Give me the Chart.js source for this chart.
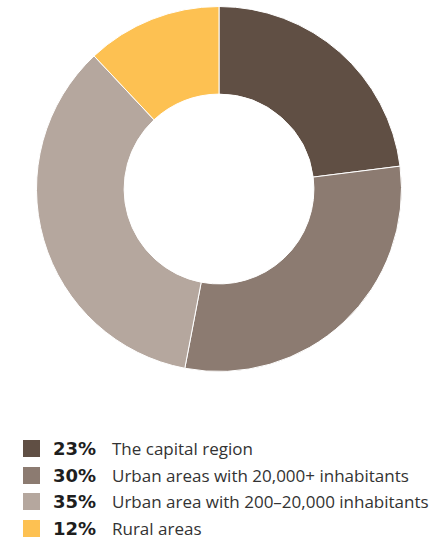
<!DOCTYPE html>
<html>
<head>
<meta charset="utf-8">
<script src="https://cdn.jsdelivr.net/npm/chart.js@4"></script>
<style>
  html, body { margin: 0; padding: 0; background: #fff; }
  body { width: 446px; height: 540px; position: relative; overflow: hidden; }
  #chartBox { position: absolute; left: 36px; top: 6px; width: 366px; height: 366px; }
  #legend { position: absolute; left: 23px; top: 435px; }
  .row { display: flex; align-items: center; height: 26.7px; white-space: nowrap; }
  .swatch { width: 17px; height: 17px; margin-right: 13px; }
  .pct { font-family: "DejaVu Sans", sans-serif; font-weight: bold; font-size: 18px; color: #1e1e1e; width: 59px; }
  .lbl { font-family: "Open Sans", sans-serif; font-size: 17px; color: #333; }
</style>
</head>
<body>
<div id="chartBox"><canvas id="donut"></canvas></div>
<div id="legend"></div>
<script>
// --- Data ---
const categories = ['The capital region', 'Urban areas with 20,000+ inhabitants', 'Urban area with 200\u201320,000 inhabitants', 'Rural areas'];
const shares = [23, 30, 35, 12];
const colors = ['#604f44', '#8c7b71', '#b5a79e', '#fdc152'];

// --- Chart ---
const ctx = document.getElementById('donut').getContext('2d');
new Chart(ctx, {
    type: 'doughnut',
    data: {
        labels: categories,
        datasets: [{
            data: shares,
            backgroundColor: colors,
            borderColor: '#ffffff',
            borderWidth: 1
        }]
    },
    options: {
        responsive: true,
        maintainAspectRatio: false,
        animation: false,
        cutout: '52%',
        plugins: {
            legend: { display: false },
            tooltip: { enabled: false }
        }
    }
});

// --- Legend (HTML) ---
const legend = document.getElementById('legend');
categories.forEach((name, i) => {
    const row = document.createElement('div');
    row.className = 'row';
    row.innerHTML = '<div class="swatch" style="background:' + colors[i] + '"></div>' +
        '<span class="pct">' + shares[i] + '%</span>' +
        '<span class="lbl">' + name + '</span>';
    legend.appendChild(row);
});
</script>
</body>
</html>
